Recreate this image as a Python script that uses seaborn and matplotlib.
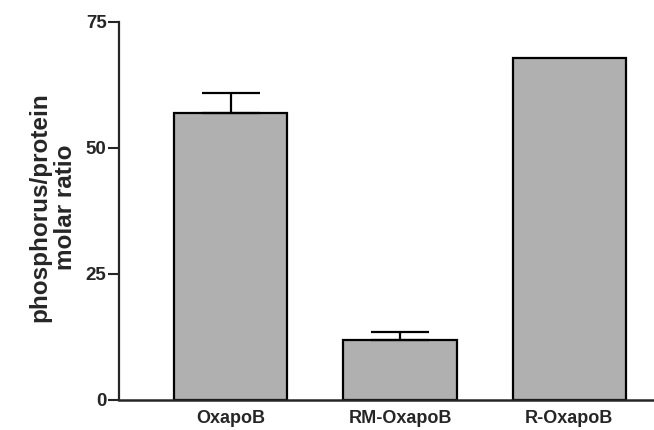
import matplotlib
matplotlib.use("Agg")
import matplotlib.pyplot as plt
import seaborn as sns
import numpy as np
import pandas as pd

categories = ["OxapoB", "RM-OxapoB", "R-OxapoB"]
values = [57.0, 11.8, 67.8]
errors_up = [3.8, 1.6, 0.0]
yticks = [0, 25, 50, 75]

sns.set_style("ticks")
plt.rcParams["font.family"] = ["Liberation Sans", "DejaVu Sans"]
plt.rcParams["font.weight"] = "bold"

df = pd.DataFrame({"cat": categories, "val": values})

fig = plt.figure(figsize=(6.54, 4.30), dpi=100)
ax = fig.add_axes([0.182, 0.070, 0.818, 0.879])

sns.barplot(data=df, x="cat", y="val", ax=ax, color="#b0b0b0",
            edgecolor="black", linewidth=1.6, width=0.67, saturation=1, errorbar=None)

x = np.arange(len(categories))
v = np.array(values)
e = np.array(errors_up)
m = e > 0
ax.errorbar(x[m], v[m], yerr=[np.zeros(m.sum()), e[m]], fmt="none",
            ecolor="black", elinewidth=1.6, capsize=21, capthick=1.6)

ax.set_ylim(0, 75)
ax.set_xlim(-0.66, 2.5)
ax.set_yticks(yticks)
ax.set_yticklabels([str(t) for t in yticks], fontsize=13.5, fontweight="bold")
ax.set_xticks(range(len(categories)))
ax.set_xticklabels(categories, fontsize=13, fontweight="bold")
ax.tick_params(axis="x", length=0, pad=7)
ax.tick_params(axis="y", length=8, width=1.5, pad=1)
ax.set_xlabel("")
ax.set_ylabel("phosphorus/protein\nmolar ratio", fontsize=17.5, fontweight="bold",
              linespacing=1.15)
ax.yaxis.set_label_coords(-0.078, 0.51)
for s in ["top", "right"]:
    ax.spines[s].set_visible(False)
ax.spines["left"].set_linewidth(1.6)
ax.spines["bottom"].set_linewidth(1.8)

fig.savefig("out.png", dpi=100)
